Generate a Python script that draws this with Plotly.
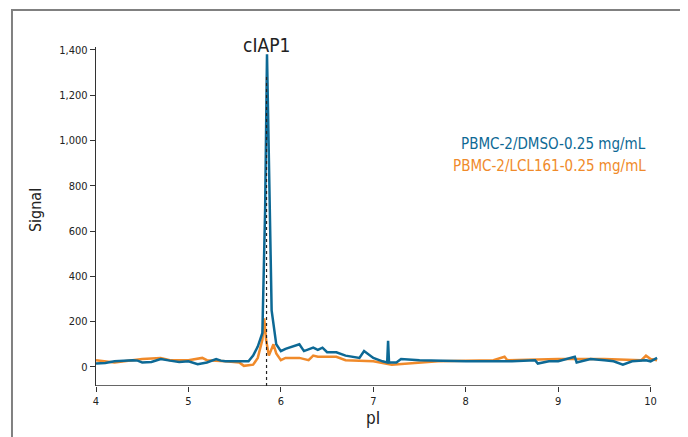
import plotly.graph_objects as go

blue_x = [4.0, 4.1, 4.2, 4.3, 4.4, 4.45, 4.5, 4.6, 4.7, 4.8, 4.9, 5.0, 5.1, 5.2, 5.3, 5.35, 5.4, 5.5, 5.65, 5.7, 5.75, 5.8, 5.83, 5.85, 5.88, 5.9, 5.95, 6.0, 6.05, 6.15, 6.2, 6.25, 6.35, 6.4, 6.45, 6.5, 6.6, 6.7, 6.85, 6.9, 7.0, 7.1, 7.15, 7.16, 7.17, 7.25, 7.3, 7.5, 8.0, 8.5, 8.75, 8.78, 8.9, 9.0, 9.15, 9.18, 9.2, 9.35, 9.5, 9.6, 9.7, 9.8, 9.95, 10.0, 10.07]
blue_y = [15, 18, 25, 28, 30, 28, 20, 22, 35, 28, 22, 25, 12, 20, 35, 28, 25, 25, 25, 50, 90, 150, 700, 1380, 700, 250, 100, 70, 80, 95, 100, 70, 85, 75, 85, 65, 65, 50, 40, 70, 40, 25, 20, 115, 20, 20, 35, 30, 25, 25, 30, 15, 25, 25, 40, 45, 20, 35, 30, 25, 10, 25, 30, 25, 40]

orange_x = [4.0, 4.2, 4.5, 4.7, 4.8, 5.0, 5.15, 5.2, 5.4, 5.55, 5.6, 5.7, 5.75, 5.8, 5.82, 5.84, 5.87, 5.9, 5.92, 5.95, 6.0, 6.05, 6.2, 6.3, 6.35, 6.4, 6.6, 6.7, 7.0, 7.2, 7.4, 7.7, 8.3, 8.42, 8.45, 9.0, 9.5, 9.8, 9.9, 9.95, 10.0, 10.07]
orange_y = [30, 20, 35, 40, 30, 30, 40, 30, 25, 20, 5, 10, 40, 120, 215, 120, 50, 80, 100, 60, 30, 40, 40, 30, 50, 45, 45, 30, 25, 10, 15, 25, 30, 45, 30, 35, 35, 30, 30, 50, 35, 30]

y_ticks = [0, 200, 400, 600, 800, 1000, 1200, 1400]
x_ticks = [4, 5, 6, 7, 8, 9, 10]
peak_x = 5.845
peak_label = "cIAP1"

BLUE = "#0d6995"
ORANGE = "#f08a2a"
FONT = "DejaVu Sans Condensed, Liberation Sans Narrow, sans-serif"

fig = go.Figure()
fig.add_trace(go.Scatter(x=orange_x, y=orange_y, mode="lines",
                         line=dict(color=ORANGE, width=2.5), name="PBMC-2/LCL161-0.25 mg/mL"))
fig.add_trace(go.Scatter(x=blue_x, y=blue_y, mode="lines",
                         line=dict(color=BLUE, width=2.5), name="PBMC-2/DMSO-0.25 mg/mL"))

ymin, ymax = -84, 1412
fig.update_layout(
    width=680, height=429,
    margin=dict(l=88, r=30, t=39, b=51, autoexpand=False),
    paper_bgcolor="white", plot_bgcolor="white",
    showlegend=False,
    font=dict(family=FONT, color="#222"),
    xaxis=dict(range=[4, 10.08], tickvals=x_ticks, ticks="outside", ticklen=5,
               tickcolor="#333", showgrid=False, zeroline=False, showline=False,
               tickfont=dict(size=11, family=FONT, color="#222")),
    yaxis=dict(range=[ymin, ymax], tickvals=y_ticks, tickformat=",", ticks="outside",
               ticklen=5, tickcolor="#333", showgrid=False, zeroline=False,
               showline=True, linecolor="#333", linewidth=1.3,
               tickfont=dict(size=11, family=FONT, color="#222")),
)

# x axis line (ends at 10)
fig.add_shape(type="line", x0=4, x1=10, y0=ymin, y1=ymin, xref="x", yref="y",
              line=dict(color="#333", width=1.3))
# dashed peak marker
fig.add_shape(type="line", x0=peak_x, x1=peak_x, y0=ymin, y1=1280, xref="x", yref="y",
              line=dict(color="#222", width=1.2, dash="dot"))
# outer frame
fig.add_shape(type="rect", xref="paper", yref="paper",
              x0=-0.1495, x1=1.0445, y0=-0.2, y1=1.109,
              line=dict(color="#808080", width=2))

fig.add_annotation(x=peak_x, y=1.006, xref="x", yref="paper", yanchor="middle", text=peak_label,
                   showarrow=False, font=dict(size=19, family=FONT, color="#222"))
fig.add_annotation(x=7, y=-0.094, xref="x", yref="paper", yanchor="middle", text="pI",
                   showarrow=False, font=dict(size=17, family=FONT, color="#222"))
fig.add_annotation(x=-0.1085, y=0.519, xref="paper", yref="paper", xanchor="center",
                   yanchor="middle", text="Signal",
                   textangle=-90, showarrow=False, font=dict(size=16, family=FONT, color="#222"))
fig.add_annotation(x=9.97, y=984, xref="x", yref="y", xanchor="right", text="PBMC-2/DMSO-0.25 mg/mL",
                   showarrow=False, font=dict(size=15, family=FONT, color=BLUE))
fig.add_annotation(x=9.97, y=887, xref="x", yref="y", xanchor="right", text="PBMC-2/LCL161-0.25 mg/mL",
                   showarrow=False, font=dict(size=15, family=FONT, color=ORANGE))

fig.write_html("out.html")
